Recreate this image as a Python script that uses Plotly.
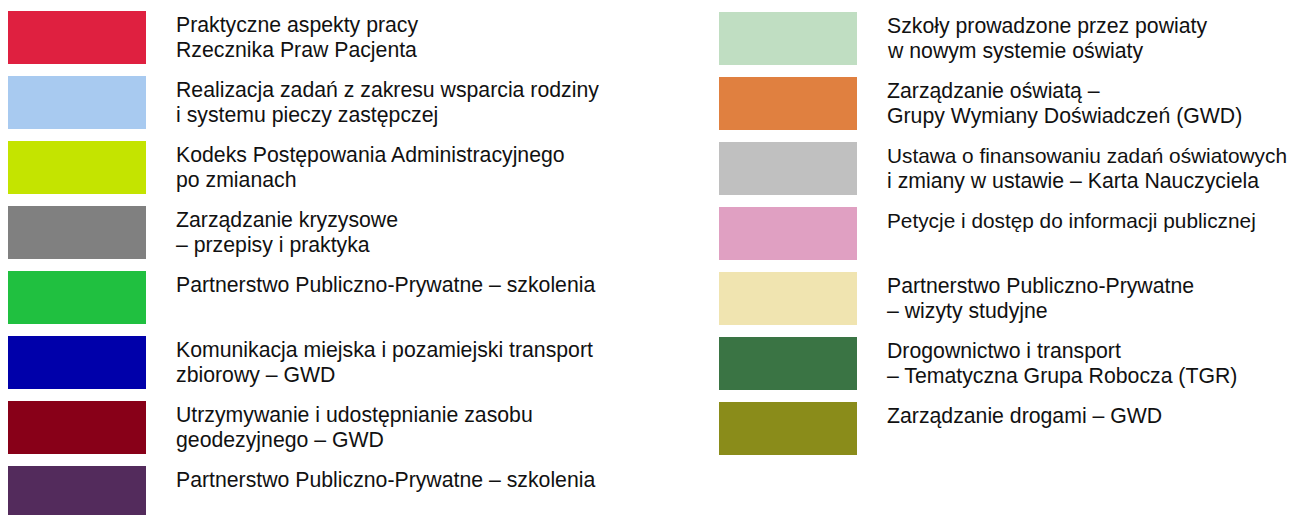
import plotly.graph_objects as go

left_labels = [
    "Praktyczne aspekty pracy<br>Rzecznika Praw Pacjenta",
    "Realizacja zadań z zakresu wsparcia rodziny<br>i systemu pieczy zastępczej",
    "Kodeks Postępowania Administracyjnego<br>po zmianach",
    "Zarządzanie kryzysowe<br>– przepisy i praktyka",
    "Partnerstwo Publiczno-Prywatne – szkolenia",
    "Komunikacja miejska i pozamiejski transport<br>zbiorowy – GWD",
    "Utrzymywanie i udostępnianie zasobu<br>geodezyjnego – GWD",
    "Partnerstwo Publiczno-Prywatne – szkolenia",
]
left_colors = ["#DF2040", "#A8CAF0", "#C4E400", "#808080", "#20C040", "#0000AA", "#880018", "#532B5C"]

right_labels = [
    "Szkoły prowadzone przez powiaty<br>w nowym systemie oświaty",
    "Zarządzanie oświatą –<br>Grupy Wymiany Doświadczeń (GWD)",
    "Ustawa o finansowaniu zadań oświatowych<br>i zmiany w ustawie – Karta Nauczyciela",
    "Petycje i dostęp do informacji publicznej",
    "Partnerstwo Publiczno-Prywatne<br>– wizyty studyjne",
    "Drogownictwo i transport<br>– Tematyczna Grupa Robocza (TGR)",
    "Zarządzanie drogami – GWD",
]
right_colors = ["#C0DEC2", "#E08040", "#C0C0C0", "#E0A0C2", "#F0E4B0", "#3A7444", "#8A8C1A"]

# page is offset by the 8px body margin
W, H = 1297, 515
ROW = 65
SW_W, SW_H = 138, 53
LINE = 25
FONT = 21.25
MAX_RIGHT = 1282  # keep the longest right-column line inside the window
columns = [
    (left_labels, left_colors, 0, 166.5, 3),
    (right_labels, right_colors, 711, 877.5, 4),
]

fig = go.Figure()
shapes = []
annotations = []
for labels, colors, sx, tx, y0 in columns:
    for i, (lab, col) in enumerate(zip(labels, colors)):
        top = y0 + i * ROW
        shapes.append(dict(type="rect", xref="x", yref="y", x0=sx, x1=sx + SW_W,
                           y0=top, y1=top + SW_H, fillcolor=col, line=dict(width=0), layer="below"))
        for j, line in enumerate(lab.split("<br>")):
            size = FONT
            if tx + len(line) * FONT * 0.49 > MAX_RIGHT:
                size = 20.8
            annotations.append(dict(x=tx, y=top + 0.5 + j * LINE, xref="x", yref="y", text=line,
                                    showarrow=False, xanchor="left", yanchor="top", align="left",
                                    borderpad=0,
                                    font=dict(family="Liberation Sans, Arial, sans-serif",
                                              size=size, color="#111111")))

fig.add_trace(go.Scatter(x=[0, W], y=[0, H], mode="markers", marker=dict(opacity=0),
                         hoverinfo="skip", showlegend=False))
fig.update_layout(
    width=W, height=H, margin=dict(l=0, r=0, t=0, b=0),
    paper_bgcolor="white", plot_bgcolor="white",
    xaxis=dict(range=[0, W], visible=False, fixedrange=True),
    yaxis=dict(range=[H, 0], visible=False, fixedrange=True),
    shapes=shapes, annotations=annotations, showlegend=False,
)
fig.write_html("out.html")
